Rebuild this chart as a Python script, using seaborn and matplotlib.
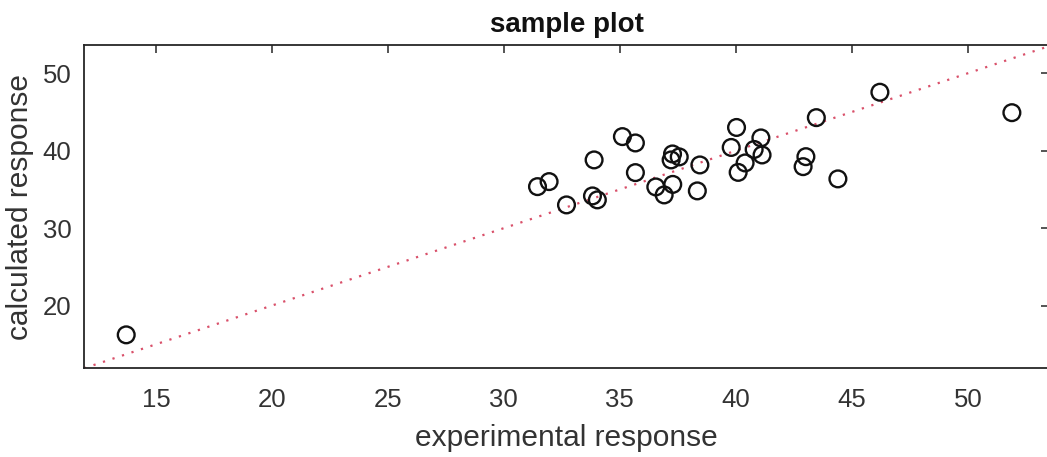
import matplotlib
matplotlib.use("Agg")
import matplotlib.pyplot as plt
import numpy as np
import pandas as pd
import seaborn as sns

# measured vs. predicted responses
experimental = [13.72, 31.45, 31.95, 32.70, 33.89, 33.82, 34.03, 35.11, 35.67, 35.67,
                36.55, 36.91, 37.28, 37.27, 37.21, 37.56, 38.34, 38.45, 39.80, 40.03,
                40.10, 40.40, 40.79, 41.08, 41.13, 43.02, 42.90, 43.47, 44.40, 46.21,
                51.90]
calculated = [16.22, 35.36, 36.01, 33.00, 38.81, 34.16, 33.65, 41.82, 41.00, 37.17,
              35.32, 34.29, 35.65, 39.58, 38.81, 39.20, 34.81, 38.16, 40.42, 43.00,
              37.20, 38.42, 40.16, 41.65, 39.45, 39.23, 37.94, 44.27, 36.36, 47.55,
              44.91]

# axis ranges (shared by the identity line)
x_range = [11.9, 53.5]
y_range = [11.9, 53.65]
x_ticks = [15, 20, 25, 30, 35, 40, 45, 50]
y_ticks = [20, 30, 40, 50]

title = "sample plot"
x_label = "experimental response"
y_label = "calculated response"

df = pd.DataFrame({"experimental": experimental, "calculated": calculated})
identity = pd.DataFrame({"x": x_range, "y": x_range})

sns.set_theme(style="white")
plt.rcParams["font.family"] = ["Liberation Sans", "DejaVu Sans"]

ink = "#262626"
fig = plt.figure(figsize=(10.47, 4.57), dpi=100)
ax = fig.add_axes([84 / 1047, (457 - 368.3) / 457, (1049 - 84) / 1047, (368.3 - 45) / 457])

# y = x reference line
sns.lineplot(data=identity, x="x", y="y", ax=ax, color="#d9506a", linestyle=(0, (1, 3.5)),
             linewidth=1.6, zorder=1)

sns.scatterplot(data=df, x="experimental", y="calculated", ax=ax, marker="o",
                s=145, facecolors="none", edgecolor="#111111", linewidth=1.7, zorder=3)

ax.set_xlim(x_range)
ax.set_ylim(y_range)
ax.set_xticks(x_ticks)
ax.set_yticks(y_ticks)
ax.set_xticklabels([str(t) for t in x_ticks])
ax.set_yticklabels([str(t) for t in y_ticks])

ax.tick_params(direction="in", length=6, width=1.1, color=ink, labelcolor="#333333",
               labelsize=18.5, top=True, right=True)
ax.tick_params(axis="x", pad=14)
ax.tick_params(axis="y", pad=9)
for spine in ax.spines.values():
    spine.set_visible(True)
    spine.set_color(ink)
    spine.set_linewidth(1.3)

ax.set_xlabel(x_label, fontsize=21.5, color="#333333", labelpad=9)
ax.set_ylabel(y_label, fontsize=21.5, color="#333333", labelpad=6)
ax.set_title(title, fontsize=20, fontweight="bold", color="#111111", pad=9)
ax.grid(False)

fig.savefig("out.png", dpi=100, facecolor="white")
